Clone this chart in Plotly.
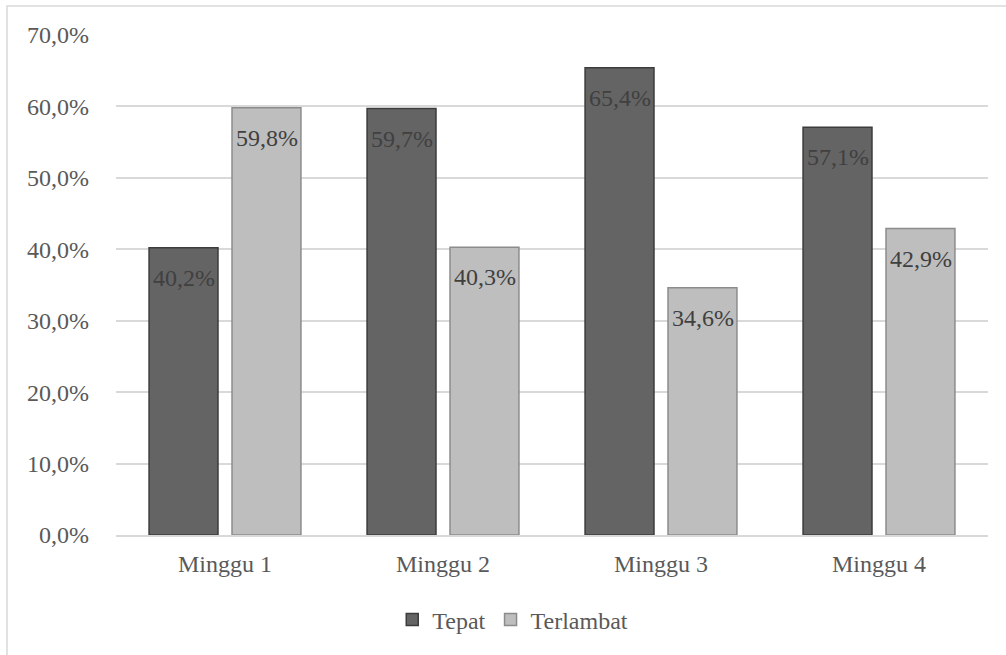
import plotly.graph_objects as go

categories = ["Minggu 1", "Minggu 2", "Minggu 3", "Minggu 4"]
tepat = [40.2, 59.7, 65.4, 57.1]
terlambat = [59.8, 40.3, 34.6, 42.9]
series_names = ["Tepat", "Terlambat"]
tick_vals = [0, 10, 20, 30, 40, 50, 60, 70]
tick_text = ["0,0%", "10,0%", "20,0%", "30,0%", "40,0%", "50,0%", "60,0%", "70,0%"]

FONT = "Liberation Serif, Times New Roman, serif"
TXT = "#595959"

fig = go.Figure()
fig.add_trace(go.Bar(
    name=series_names[0], x=categories, y=tepat,
    marker=dict(color="#646464", line=dict(color="#3c3c3c", width=1.5)),
    hoverinfo="skip",
))
fig.add_trace(go.Bar(
    name=series_names[1], x=categories, y=terlambat,
    marker=dict(color="#bebebe", line=dict(color="#8c8c8c", width=1.5)),
    hoverinfo="skip",
))

annotations = []
for vals, shift in ((tepat, -41.5), (terlambat, 41.5)):
    for c, v in zip(categories, vals):
        annotations.append(dict(
            x=c, y=v, xref="x", yref="y", xshift=shift, yshift=-15,
            yanchor="top", xanchor="center", showarrow=False,
            text=f"{v:.1f}%".replace(".", ","),
            font=dict(family=FONT, size=24, color="#404040"),
        ))

fig.update_layout(
    width=1006, height=655,
    margin=dict(l=116, r=18, t=35, b=120),
    paper_bgcolor="white", plot_bgcolor="white",
    barmode="group", bargap=0.239, bargroupgap=0.169,
    separators=",.",
    font=dict(family=FONT, size=24, color=TXT),
    showlegend=True,
    legend=dict(orientation="h", x=0.455, xanchor="center", y=-0.17, yanchor="middle",
                font=dict(family=FONT, size=24, color=TXT), itemwidth=30,
                traceorder="normal"),
    annotations=annotations,
    shapes=[dict(type="rect", xref="paper", yref="paper",
                 x0=-0.125, x1=1.03, y0=-0.26, y1=1.058,
                 line=dict(color="#d9d9d9", width=1.5), layer="below")],
)
fig.update_yaxes(
    range=[0, 70], tickvals=tick_vals, ticktext=tick_text,
    showgrid=True, gridcolor="#d9d9d9", gridwidth=1.5, zeroline=False,
    showline=False, ticks="", ticklabelstandoff=26,
    tickfont=dict(family=FONT, size=24, color=TXT),
)
fig.update_xaxes(
    showline=True, linecolor="#d9d9d9", linewidth=1.5, ticks="",
    ticklabelstandoff=6,
    tickfont=dict(family=FONT, size=24, color=TXT),
)

fig.write_html("out.html")
